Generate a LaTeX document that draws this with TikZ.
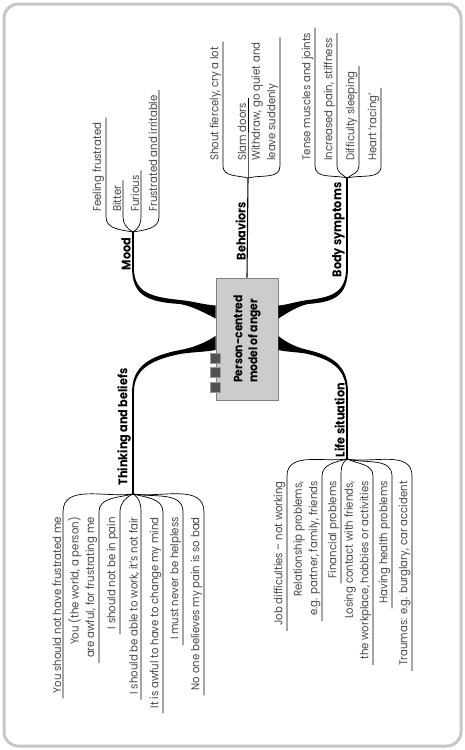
\documentclass[tikz,border=0pt]{standalone}
\usepackage{fontspec}
\setmainfont{Poppins}[FakeStretch=0.9]
\usetikzlibrary{positioning}
\tikzstyle{frame} = [rounded corners=14pt, line width=3pt, draw=black!22]
\tikzstyle{core} = [rectangle, draw=black!50, fill=black!20, line width=0.8pt, minimum width=62pt, minimum height=122pt, inner sep=0pt]
\tikzstyle{coretitle} = [rotate=90, align=left, inner sep=0pt, font=\fontsize{12}{15}\selectfont\bfseries]
\tikzstyle{handle} = [rectangle, fill=black!68, draw=black!40, line width=0.4pt, minimum size=10pt, inner sep=0pt]
\tikzstyle{topic} = [rotate=90, inner sep=2pt, font=\fontsize{12.5}{14}\selectfont\bfseries]
\tikzstyle{leaf} = [rotate=90, inner xsep=5pt, inner ysep=1.5pt, align=left, text=black!72, font=\fontsize{11.3}{15.5}\selectfont]
\tikzstyle{leafr} = [leaf, align=right]
\tikzstyle{twig} = [line width=0.7pt]
\tikzstyle{trunk} = [line width=1.1pt]

\begin{document}
\begin{tikzpicture}[x=1pt, y=-1pt]

    \useasboundingbox (0,0) rectangle (465,750);
    \draw [frame] (4,4) rectangle (461,746);

    % centre box
    \node (core) [core] at (247,339) {};
    \node (coretitle) [coretitle] at (core.center) {Person-centred\\model of anger};
    \node (h1) [handle] at (215.5,358) {};
    \node (h2) [handle] at (215.5,372) {};
    \node (h3) [handle] at (215.5,387) {};

    % main branches
    \coordinate (moodroot) at (133,268);
    \coordinate (moodfork) at (133,232);
    \coordinate (behavfork) at (248,178);
    \coordinate (bodyroot) at (347,268);
    \coordinate (bodyfork) at (347,178);
    \coordinate (thinkroot) at (133,392);
    \coordinate (thinkfork) at (133,494);
    \coordinate (liferoot) at (347,392);
    \coordinate (lifefork) at (347,459);

    \fill ([yshift=33.5pt]core.west) .. controls (205,305) and (192,301) .. (180,300) .. controls (150,297) and (134,292) .. ([xshift=0.9pt]moodroot) -- ([xshift=-0.9pt]moodroot) .. controls (132,297) and (150,302) .. (180,304) .. controls (192,306) and (205,313) .. ([yshift=20.5pt]core.west) -- cycle;
    \fill ([yshift=33.5pt]core.east) .. controls (287,305) and (298,301) .. (308,300) .. controls (333,297) and (346,292) .. ([xshift=-0.9pt]bodyroot) -- ([xshift=0.9pt]bodyroot) .. controls (348,297) and (333,302) .. (308,304) .. controls (298,306) and (287,313) .. ([yshift=20.5pt]core.east) -- cycle;
    \fill ([yshift=3pt]core.west) .. controls (205,343) and (192,348) .. (180,350) .. controls (150,356) and (132,366) .. ([xshift=-0.9pt]thinkroot) -- ([xshift=0.9pt]thinkroot) .. controls (134,370) and (150,360) .. (180,354) .. controls (192,352) and (205,352) .. ([yshift=-11pt]core.west) -- cycle;
    \fill ([yshift=3pt]core.east) .. controls (287,343) and (298,348) .. (308,350) .. controls (333,356) and (348,366) .. ([xshift=0.9pt]liferoot) -- ([xshift=-0.9pt]liferoot) .. controls (346,370) and (333,360) .. (308,354) .. controls (298,352) and (287,352) .. ([yshift=-11pt]core.east) -- cycle;

    \draw [trunk] (moodroot) -- (moodfork);
    \draw [trunk] (core.north) -- (behavfork);
    \draw [trunk] (bodyroot) -- (bodyfork);
    \draw [trunk] (thinkroot) -- (thinkfork);
    \draw [trunk] (liferoot) -- (lifefork);

    \node (mood) [topic, anchor=south] at (133,254) {Mood};
    \node (behav) [topic, anchor=south] at (248,231) {Behaviors};
    \node (body) [topic, anchor=south] at (347,230) {Body symptoms};
    \node (think) [topic, anchor=south] at (133,427) {Thinking and beliefs};
    \node (life) [topic, anchor=south] at (347,420) {Life situation};

    % mood
    \node (m1) [leaf, anchor=south west] at (106,217) {Feeling frustrated};
    \node (m2) [leaf, anchor=south west] at (123,217) {Bitter};
    \node (m3) [leaf, anchor=south west] at (141,217) {Furious};
    \node (m4) [leaf, anchor=south west] at (159,217) {Frustrated and irritable};
    \draw [twig] (moodfork) to[out=170, in=-90] (m1.south west) -- (m1.south east);
    \draw [twig] (moodfork) to[out=150, in=-90] (m2.south west) -- (m2.south east);
    \draw [twig] (moodfork) to[out=30, in=-90] (m3.south west) -- (m3.south east);
    \draw [twig] (moodfork) to[out=10, in=-90] (m4.south west) -- (m4.south east);

    % behaviors
    \node (b1) [leaf, anchor=south west] at (223,166) {Shout fiercely, cry a lot};
    \node (b2) [leaf, anchor=south west] at (248,166) {Slam doors};
    \node (b3) [leaf, anchor=south west] at (280,166) {Withdraw, go quiet and\\leave suddenly};
    \draw [twig] (behavfork) to[out=165, in=-90] (b1.south west) -- (b1.south east);
    \draw [twig] (behavfork) -- (b2.south west) -- (b2.south east);
    \draw [twig] (behavfork) to[out=15, in=-90] (b3.south west) -- (b3.south east);

    % body symptoms
    \node (s1) [leaf, anchor=south west] at (315,166) {Tense muscles and joints};
    \node (s2) [leaf, anchor=south west] at (337,166) {Increased pain, stiffness};
    \node (s3) [leaf, anchor=south west] at (359,166) {Difficulty sleeping};
    \node (s4) [leaf, anchor=south west] at (381,166) {Heart ‘racing’};
    \draw [twig] (bodyfork) to[out=165, in=-90] (s1.south west) -- (s1.south east);
    \draw [twig] (bodyfork) to[out=145, in=-90] (s2.south west) -- (s2.south east);
    \draw [twig] (bodyfork) to[out=35, in=-90] (s3.south west) -- (s3.south east);
    \draw [twig] (bodyfork) to[out=15, in=-90] (s4.south west) -- (s4.south east);

    % thinking and beliefs
    \node (t1) [leafr, anchor=south east] at (63,512) {You should not have frustrated me};
    \node (t2) [leafr, anchor=south east] at (99,512) {You (the world, a person)\\are awful, for frustrating me};
    \node (t3) [leafr, anchor=south east] at (120,512) {I should not be in pain};
    \node (t4) [leafr, anchor=south east] at (141,512) {I should be able to work, it’s not fair};
    \node (t5) [leafr, anchor=south east] at (163,512) {It is awful to have to change my mind};
    \node (t6) [leafr, anchor=south east] at (183,512) {I must never be helpless};
    \node (t7) [leafr, anchor=south east] at (204,512) {No one believes my pain is so bad};
    \draw [twig] (thinkfork) to[out=188, in=90] (t1.south east) -- (t1.south west);
    \draw [twig] (thinkfork) to[out=195, in=90] (t2.south east) -- (t2.south west);
    \draw [twig] (thinkfork) to[out=205, in=90] (t3.south east) -- (t3.south west);
    \draw [twig] (thinkfork) to[out=-30, in=90] (t4.south east) -- (t4.south west);
    \draw [twig] (thinkfork) to[out=-15, in=90] (t5.south east) -- (t5.south west);
    \draw [twig] (thinkfork) to[out=-10, in=90] (t6.south east) -- (t6.south west);
    \draw [twig] (thinkfork) to[out=-8, in=90] (t7.south east) -- (t7.south west);

    % life situation
    \node (l1) [leafr, anchor=south east] at (287,476) {Job difficulties – not working};
    \node (l2) [leafr, anchor=south east] at (322,476) {Relationship problems,\\e.g. partner, family, friends};
    \node (l3) [leafr, anchor=south east] at (341,476) {Financial problems};
    \node (l4) [leafr, anchor=south east] at (373,476) {Losing contact with friends,\\the workplace, hobbies or activities};
    \node (l5) [leafr, anchor=south east] at (392,476) {Having health problems};
    \node (l6) [leafr, anchor=south east] at (412,476) {Traumas: e.g. burglary, car accident};
    \draw [twig] (lifefork) to[out=188, in=90] (l1.south east) -- (l1.south west);
    \draw [twig] (lifefork) to[out=195, in=90] (l2.south east) -- (l2.south west);
    \draw [twig] (lifefork) to[out=215, in=90] (l3.south east) -- (l3.south west);
    \draw [twig] (lifefork) to[out=-25, in=90] (l4.south east) -- (l4.south west);
    \draw [twig] (lifefork) to[out=-15, in=90] (l5.south east) -- (l5.south west);
    \draw [twig] (lifefork) to[out=-10, in=90] (l6.south east) -- (l6.south west);

\end{tikzpicture}
\end{document}
